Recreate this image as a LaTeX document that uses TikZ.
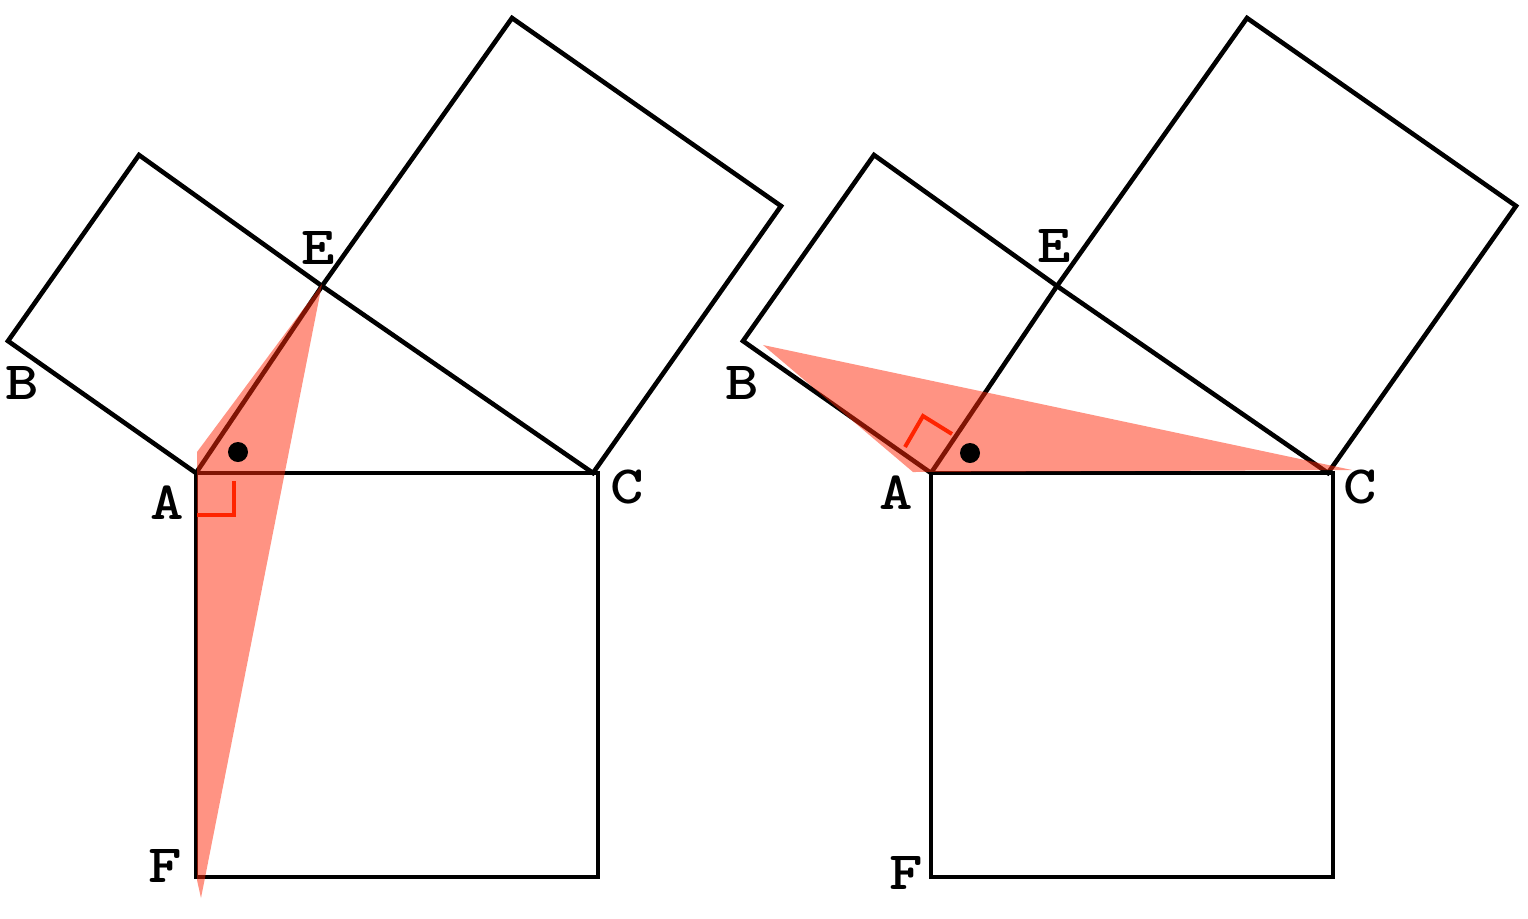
\documentclass[tikz,border=0pt]{standalone}
\usepackage{fontspec}
\usepackage{graphicx}
\definecolor{hl}{RGB}{255,40,8}
\definecolor{mk}{RGB}{255,36,0}
\newcommand\dlbl[1]{\scalebox{1.18}[1]{#1}}
\begin{document}
\begin{tikzpicture}[x=0.5pt,y=-0.5pt,
  edge/.style={draw=black,line width=2.3pt,line join=miter},
  shade/.style={fill=hl,fill opacity=0.5},
  angmark/.style={draw=mk,line width=2pt},
  lab/.style={font=\ttfamily\fontsize{27}{27}\bfseries\selectfont,inner sep=0pt,text depth=0pt},
  dotmark/.style={fill=black}]
\useasboundingbox (0,0) rectangle (1528,918);
% ---------- left figure ----------
\coordinate (A1) at (196,473);
\coordinate (C1) at (593,473);
\coordinate (E1) at (322,286);
\draw[edge] (196,473) rectangle (598,877);
\draw[edge] (A1) -- (E1) -- (139,155) -- (8,341) -- cycle;
\draw[edge] (E1) -- (512,18) -- (781,206) -- (C1) -- cycle;
\fill[shade] (197,452) -- (322,284) -- (201,898) -- (197,880) -- cycle;
\draw[angmark] (197,515) -- (234,515) -- (234,481);
\fill[dotmark] (238,452) circle (10);
\node[lab] (lA1) at (167,503) {\dlbl{A}};
\node[lab] (lB1) at (22,383) {\dlbl{B}};
\node[lab] (lC1) at (627,487) {\dlbl{C}};
\node[lab] (lE1) at (318,248) {\dlbl{E}};
\node[lab] (lF1) at (165,866) {\dlbl{F}};
% ---------- right figure ----------
\coordinate (A2) at (931,473);
\coordinate (C2) at (1328,473);
\coordinate (E2) at (1057,286);
\draw[edge] (931,473) rectangle (1333,877);
\draw[edge] (A2) -- (E2) -- (874,155) -- (743,341) -- cycle;
\draw[edge] (E2) -- (1247,18) -- (1516,206) -- (C2) -- cycle;
\fill[shade] (763,345) -- (1352,470) -- (913,472) -- cycle;
\draw[angmark] (905,447) -- (923,416) -- (952,434);
\fill[dotmark] (970,453) circle (10);
\node[lab] (lA2) at (896,493) {\dlbl{A}};
\node[lab] (lB2) at (742,383) {\dlbl{B}};
\node[lab] (lC2) at (1360,487) {\dlbl{C}};
\node[lab] (lE2) at (1054,246) {\dlbl{E}};
\node[lab] (lF2) at (906,873) {\dlbl{F}};
\end{tikzpicture}
\end{document}
